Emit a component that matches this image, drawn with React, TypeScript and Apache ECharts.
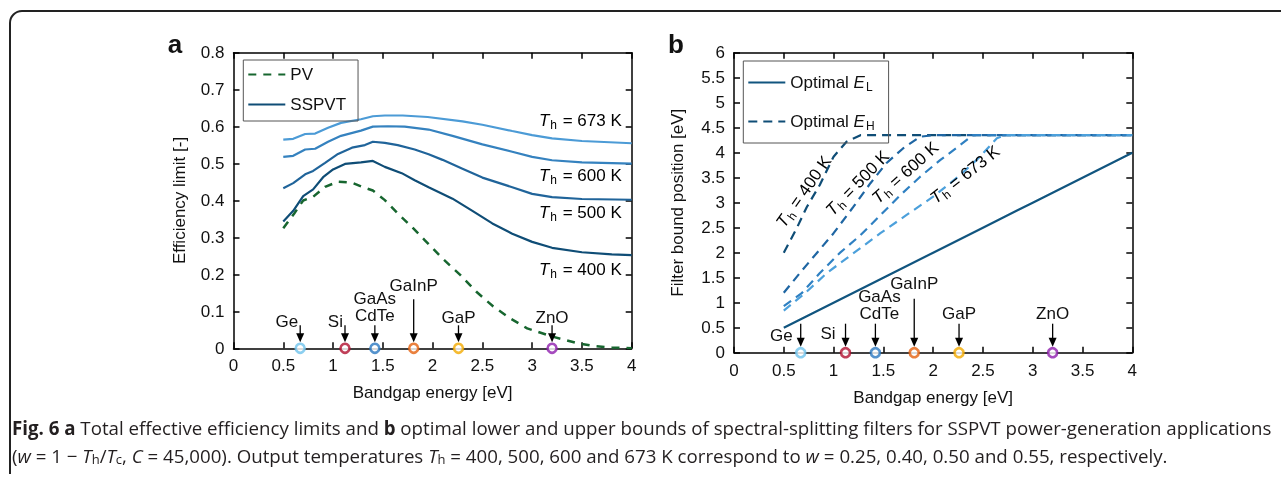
import React, { useEffect, useRef } from "react";
import * as echarts from "echarts";

// ---------- Panel a data (bandgap energy [eV] vs efficiency limit [-]) ----------
const pvE = [0.5, 0.61, 0.7, 0.8, 0.92, 1.05, 1.19, 1.29, 1.4, 1.52, 1.65, 1.79, 1.92, 2.1, 2.28, 2.44, 2.61, 2.78, 2.95, 3.2, 3.45, 3.6, 3.8, 4.0];
const pvEff = [0.325, 0.365, 0.4, 0.41, 0.437, 0.451, 0.448, 0.437, 0.427, 0.401, 0.365, 0.329, 0.293, 0.243, 0.198, 0.153, 0.113, 0.081, 0.054, 0.032, 0.014, 0.007, 0.002, 0.0];

const s400E = [0.5, 0.6, 0.7, 0.8, 0.9, 1.0, 1.12, 1.28, 1.4, 1.52, 1.69, 1.82, 1.96, 2.2, 2.4, 2.6, 2.8, 3.0, 3.2, 3.5, 3.8, 4.0];
const s400Eff = [0.343, 0.372, 0.412, 0.43, 0.463, 0.484, 0.499, 0.503, 0.507, 0.491, 0.474, 0.455, 0.436, 0.405, 0.372, 0.338, 0.31, 0.288, 0.272, 0.26, 0.254, 0.252];

const s500E = [0.5, 0.6, 0.72, 0.8, 0.92, 1.05, 1.19, 1.32, 1.4, 1.52, 1.65, 1.82, 1.96, 2.1, 2.3, 2.5, 2.8, 3.0, 3.2, 3.5, 4.0];
const s500Eff = [0.433, 0.447, 0.471, 0.48, 0.502, 0.526, 0.543, 0.55, 0.559, 0.556, 0.55, 0.538, 0.525, 0.51, 0.486, 0.462, 0.436, 0.418, 0.409, 0.404, 0.402];

const s600E = [0.5, 0.6, 0.72, 0.82, 0.95, 1.08, 1.28, 1.4, 1.55, 1.72, 1.96, 2.2, 2.5, 2.8, 3.0, 3.2, 3.5, 4.0];
const s600Eff = [0.518, 0.521, 0.538, 0.54, 0.559, 0.575, 0.589, 0.6, 0.601, 0.6, 0.592, 0.575, 0.552, 0.532, 0.518, 0.509, 0.503, 0.5];

const s673E = [0.5, 0.6, 0.72, 0.82, 0.95, 1.08, 1.28, 1.4, 1.52, 1.7, 1.95, 2.3, 2.5, 2.8, 3.0, 3.2, 3.5, 4.0];
const s673Eff = [0.565, 0.567, 0.58, 0.581, 0.597, 0.61, 0.62, 0.628, 0.63, 0.63, 0.626, 0.614, 0.605, 0.588, 0.577, 0.568, 0.561, 0.555];

// ---------- Panel b data (bandgap energy [eV] vs filter bound position [eV]) ----------
const elE = [0.5, 1.0, 1.5, 2.0, 2.5, 3.0, 3.5, 4.0];
const elBound = [0.5, 1.0, 1.5, 2.0, 2.5, 3.0, 3.5, 4.0];

const eh400E = [0.5, 0.63, 0.73, 0.86, 1.0, 1.13, 1.27, 1.6, 2.0, 2.5, 3.0, 3.5, 4.0];
const eh400 = [2.0, 2.49, 2.91, 3.35, 3.92, 4.22, 4.35, 4.35, 4.35, 4.35, 4.35, 4.35, 4.35];
const eh500E = [0.5, 0.66, 0.83, 1.0, 1.2, 1.37, 1.53, 1.7, 1.87, 2.0, 2.5, 3.0, 3.5, 4.0];
const eh500 = [1.2, 1.59, 1.99, 2.39, 2.92, 3.39, 3.79, 4.09, 4.32, 4.35, 4.35, 4.35, 4.35, 4.35];
const eh600E = [0.5, 0.68, 0.86, 1.06, 1.27, 1.47, 1.67, 1.87, 2.07, 2.27, 2.4, 3.0, 3.5, 4.0];
const eh600 = [0.93, 1.19, 1.59, 1.99, 2.35, 2.75, 3.15, 3.52, 3.85, 4.15, 4.35, 4.35, 4.35, 4.35];
const eh673E = [0.5, 0.73, 0.93, 1.2, 1.47, 1.73, 2.0, 2.27, 2.47, 2.64, 2.72, 3.0, 3.5, 4.0];
const eh673 = [0.84, 1.22, 1.59, 1.99, 2.39, 2.75, 3.12, 3.55, 3.92, 4.29, 4.35, 4.35, 4.35, 4.35];

// ---------- Materials ----------
const materials = ["Ge", "Si", "GaAs\nCdTe", "GaInP", "GaP", "ZnO"];
const bandgapsEV = [0.67, 1.12, 1.42, 1.81, 2.26, 3.2];
const temps = ["400", "500", "600", "673"];

// ---------- Styles / layout (not data) ----------
const FONT = "'Liberation Sans', Arial, Helvetica, sans-serif";
const CAP_FONT = "'Open Sans', 'Noto Sans', sans-serif";
const CAP_SIZE = 18.7;
const materialColors = ["#6fc3ec", "#b01030", "#2a78c0", "#e5620f", "#f2aa00", "#8e1eae"];
const colA = ["#0f4d76", "#20649a", "#3582bf", "#4c9bd6"];
const colB = ["#0f4d76", "#1f66a3", "#2f80c2", "#4ca0db"];
const PV_COLOR = "#17662f";
const EL_COLOR = "#11557f";

const labelLayoutA = [
  { align: "right", dx: -2, dy: -4 },
  { align: "right", dx: -2, dy: -4 },
  { align: "center", dx: 0, dy: -10 },
  { align: "center", dx: 0, dy: -14 },
  { align: "center", dx: 0, dy: -8 },
  { align: "center", dx: 0, dy: -8 },
];
const labelLayoutB = [
  { align: "right", dx: -8, dy: 12 },
  { align: "right", dx: -10, dy: 10 },
  { align: "center", dx: 4, dy: -10 },
  { align: "center", dx: 0, dy: -15 },
  { align: "center", dx: 0, dy: -10 },
  { align: "center", dx: 0, dy: -10 },
];
// temperature label anchors (data coords) + rotation
const tLabelA = [
  [3.9, 0.214], [3.9, 0.367], [3.9, 0.469], [3.9, 0.616],
];
const tLabelB = [
  [0.7, 3.22, 55], [1.24, 3.39, 46], [1.72, 3.6, 42], [2.32, 3.56, 38],
];

const zip = (xs: number[], ys: number[]) => xs.map((x, i) => [x, ys[i]]);

const richT = {
  i: { fontStyle: "italic", fontSize: 17, fontFamily: FONT, color: "#111" },
  s: { fontSize: 12, fontFamily: FONT, color: "#111", padding: [9, 1, 0, 1] },
  n: { fontSize: 17, fontFamily: FONT, color: "#111" },
};

function xAxis(gridIndex: number, position: string, show: boolean) {
  return {
    type: "value", gridIndex, position, min: 0, max: 4, interval: 0.5,
    axisLine: { onZero: false, lineStyle: { color: "#000", width: 1.5 } },
    axisTick: { inside: true, length: 6, lineStyle: { color: "#000", width: 1.5 } },
    axisLabel: { show, fontSize: 17, color: "#111", margin: 9, fontFamily: FONT },
    splitLine: { show: false },
    name: show ? "Bandgap energy [eV]" : "", nameLocation: "middle", nameGap: 36,
    nameTextStyle: { fontSize: 17, color: "#111", fontFamily: FONT },
  };
}
function yAxis(gridIndex: number, position: string, show: boolean, max: number, interval: number, name: string, gap: number) {
  return {
    type: "value", gridIndex, position, min: 0, max, interval,
    axisLine: { onZero: false, lineStyle: { color: "#000", width: 1.5 } },
    axisTick: { inside: true, length: 6, lineStyle: { color: "#000", width: 1.5 } },
    axisLabel: { show, fontSize: 17, color: "#111", margin: 9, fontFamily: FONT },
    splitLine: { show: false },
    name: show ? name : "", nameLocation: "middle", nameGap: gap,
    nameTextStyle: { fontSize: 17, color: "#111", fontFamily: FONT },
  };
}

function arrowRender(layout: any[], len: number, longLen: number) {
  return (params: any, api: any) => {
    const i = api.value(1);
    const base = api.coord([api.value(0), 0]);
    const tip = base[1] - 6;
    const top = tip - (i === 3 ? longLen : len);
    const lab = layout[i];
    const hh = 9, hw = 4;
    return {
      type: "group",
      children: [
        { type: "line", shape: { x1: base[0], y1: top, x2: base[0], y2: tip - hh + 1 }, style: { stroke: "#000", lineWidth: 1.3 } },
        { type: "polygon", shape: { points: [[base[0] - hw, tip - hh], [base[0] + hw, tip - hh], [base[0], tip]] }, style: { fill: "#000" } },
        {
          type: "text", x: base[0] + lab.dx, y: top + lab.dy + 8.5,
          style: { text: materials[i], align: lab.align, verticalAlign: "bottom", fontSize: 17, lineHeight: 17, fontFamily: FONT, fill: "#111" },
        },
      ],
    };
  };
}

function lineSeries(name: string, xi: number, yi: number, data: number[][], color: string, dash: any, width = 2.2) {
  return {
    type: "line", name, xAxisIndex: xi, yAxisIndex: yi, data, showSymbol: false, symbol: "none",
    lineStyle: { color, width, type: dash }, itemStyle: { color }, z: 3,
  };
}

export default function App() {
  const ref = useRef<HTMLDivElement>(null);
  useEffect(() => {
    if (!ref.current) return;
    const chart = echarts.init(ref.current, null, { renderer: "svg" });
    const circles = (xi: number, yi: number) => ({
      type: "scatter", xAxisIndex: xi, yAxisIndex: yi, clip: false, z: 6,
      symbol: "circle", symbolSize: 9,
      data: bandgapsEV.map((b, i) => ({ value: [b, 0], itemStyle: { color: "#fff", borderColor: materialColors[i], borderWidth: 2.6 } })),
    });
    const arrows = (xi: number, yi: number, layout: any[], len: number, longLen: number) => ({
      type: "custom", xAxisIndex: xi, yAxisIndex: yi, clip: false, z: 5,
      data: bandgapsEV.map((b, i) => [b, i]),
      renderItem: arrowRender(layout, len, longLen),
    });
    const option: any = {
      animation: false,
      textStyle: { fontFamily: FONT },
      grid: [
        { left: 233.5, top: 52.7, width: 398.2, height: 295.6 },
        { left: 734, top: 52.7, width: 398.3, height: 300 },
      ],
      xAxis: [xAxis(0, "bottom", true), xAxis(0, "top", false), xAxis(1, "bottom", true), xAxis(1, "top", false)],
      yAxis: [
        yAxis(0, "left", true, 0.8, 0.1, "Efficiency limit [-]", 46),
        yAxis(0, "right", false, 0.8, 0.1, "", 0),
        yAxis(1, "left", true, 6, 0.5, "Filter bound position [eV]", 48),
        yAxis(1, "right", false, 6, 0.5, "", 0),
      ],
      legend: [
        {
          data: ["PV", "SSPVT"], orient: "vertical", left: 243.3, top: 60, selectedMode: false,
          itemWidth: 37, itemHeight: 14, itemGap: 13, padding: [6, 12, 8, 4],
          borderColor: "#555", borderWidth: 1,
          itemStyle: { opacity: 0, color: "transparent", borderWidth: 0 },
          textStyle: { fontSize: 17, color: "#111", fontFamily: FONT },
        },
        {
          data: ["Optimal EL", "Optimal EH"], orient: "vertical", left: 743.3, top: 61, selectedMode: false,
          itemWidth: 37, itemHeight: 14, itemGap: 20, padding: [13, 14, 11, 4],
          borderColor: "#555", borderWidth: 1,
          itemStyle: { opacity: 0, color: "transparent", borderWidth: 0 },
          formatter: (n: string) => (n === "Optimal EL" ? "{n|Optimal }{i|E}{s|L}" : "{n|Optimal }{i|E}{s|H}"),
          textStyle: { fontSize: 17, color: "#111", fontFamily: FONT, rich: richT },
        },
      ],
      series: [
        lineSeries("PV", 0, 0, zip(pvE, pvEff), PV_COLOR, [8, 7], 2.5),
        lineSeries("SSPVT", 0, 0, zip(s400E, s400Eff), colA[0], "solid"),
        lineSeries("500 K", 0, 0, zip(s500E, s500Eff), colA[1], "solid"),
        lineSeries("600 K", 0, 0, zip(s600E, s600Eff), colA[2], "solid"),
        lineSeries("673 K", 0, 0, zip(s673E, s673Eff), colA[3], "solid"),
        arrows(0, 0, labelLayoutA, 17, 43),
        circles(0, 0),
        {
          type: "custom", xAxisIndex: 0, yAxisIndex: 0, clip: false, z: 7,
          data: tLabelA.map((p, i) => [p[0], p[1], i]),
          renderItem: (params: any, api: any) => {
            const p = api.coord([api.value(0), api.value(1)]);
            const i = api.value(2);
            return {
              type: "text", x: p[0], y: p[1],
              style: { text: `{i|T}{s|h}{n| = ${temps[i]} K}`, rich: richT, align: "right", verticalAlign: "middle" },
            };
          },
        },
        lineSeries("Optimal EL", 2, 2, zip(elE, elBound), EL_COLOR, "solid", 2.2),
        lineSeries("Optimal EH", 2, 2, zip(eh400E, eh400), colB[0], [9, 6]),
        lineSeries("EH 500 K", 2, 2, zip(eh500E, eh500), colB[1], [9, 6]),
        lineSeries("EH 600 K", 2, 2, zip(eh600E, eh600), colB[2], [9, 6]),
        lineSeries("EH 673 K", 2, 2, zip(eh673E, eh673), colB[3], [9, 6]),
        arrows(2, 2, labelLayoutB, 23, 48),
        circles(2, 2),
        {
          type: "custom", xAxisIndex: 2, yAxisIndex: 2, clip: false, z: 7,
          data: tLabelB.map((p, i) => [p[0], p[1], i]),
          renderItem: (params: any, api: any) => {
            const p = api.coord([api.value(0), api.value(1)]);
            const i = api.value(2);
            return {
              type: "text", x: p[0], y: p[1], rotation: (tLabelB[i][2] * Math.PI) / 180,
              style: { text: `{i|T}{s|h}{n| = ${temps[i]} K}`, rich: richT, align: "center", verticalAlign: "middle" },
            };
          },
        },
      ],
      graphic: [
        { type: "polyline", shape: { points: [[10, 474], [10, 23]] }, style: { stroke: "#222", lineWidth: 2, fill: null } },
        { type: "arc", shape: { cx: 22, cy: 23, r: 12, startAngle: Math.PI, endAngle: Math.PI * 1.5 }, style: { stroke: "#222", lineWidth: 2, fill: null } },
        { type: "polyline", shape: { points: [[22, 11], [1281, 11]] }, style: { stroke: "#222", lineWidth: 2, fill: null } },
        { type: "text", x: 175, y: 44, style: { text: "a", fontSize: 26, fontWeight: "bold", fontFamily: FONT, fill: "#111", align: "center", verticalAlign: "middle" } },
        { type: "text", x: 676, y: 44, style: { text: "b", fontSize: 26, fontWeight: "bold", fontFamily: FONT, fill: "#111", align: "center", verticalAlign: "middle" } },
        {
          type: "text", x: 12, y: 427,
          style: {
            text: "{b|Fig. 6 a} Total effective efficiency limits and {b|b} optimal lower and upper bounds of spectral-splitting filters for SSPVT power-generation applications",
            fontSize: CAP_SIZE, fontFamily: CAP_FONT, fill: "#231f20", verticalAlign: "middle",
            rich: {
              b: { fontWeight: "bold", fontSize: CAP_SIZE, fontFamily: CAP_FONT, color: "#231f20" },
            },
          },
        },
        {
          type: "text", x: 12, y: 455,
          style: {
            text: "({i|w} = 1 − {i|T}{s|h}/{i|T}{s|c}, {i|C} = 45,000). Output temperatures {i|T}{s|h} = 400, 500, 600 and 673 K correspond to {i|w} = 0.25, 0.40, 0.50 and 0.55, respectively.",
            fontSize: CAP_SIZE, fontFamily: CAP_FONT, fill: "#231f20", verticalAlign: "middle",
            rich: {
              i: { fontStyle: "italic", fontSize: CAP_SIZE, fontFamily: CAP_FONT, color: "#231f20" },
              s: { fontSize: 13, fontFamily: CAP_FONT, color: "#231f20", padding: [8, 0, 0, 0] },
            },
          },
        },
      ],
    };
    chart.setOption(option);
    return () => chart.dispose();
  }, []);
  return <div ref={ref} style={{ position: "fixed", left: 0, top: 0, width: 1281, height: 483 }} />;
}
